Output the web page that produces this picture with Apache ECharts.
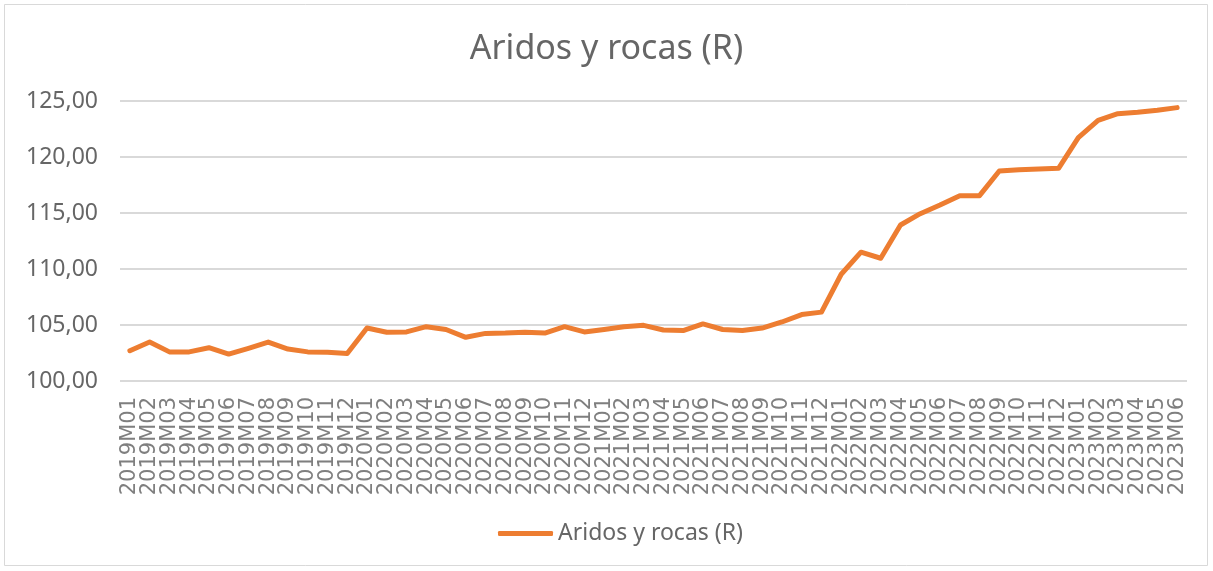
<!DOCTYPE html>
<html><head><meta charset="utf-8">
<script src="https://cdn.jsdelivr.net/npm/echarts@6/dist/echarts.min.js"></script>
<style>html,body{margin:0;padding:0;background:#fff}#c{width:1213px;height:571px}</style>
</head><body><div id="c"></div>
<script>
const categories = [
 "2019M01","2019M02","2019M03","2019M04","2019M05","2019M06","2019M07","2019M08","2019M09","2019M10","2019M11","2019M12",
 "2020M01","2020M02","2020M03","2020M04","2020M05","2020M06","2020M07","2020M08","2020M09","2020M10","2020M11","2020M12",
 "2021M01","2021M02","2021M03","2021M04","2021M05","2021M06","2021M07","2021M08","2021M09","2021M10","2021M11","2021M12",
 "2022M01","2022M02","2022M03","2022M04","2022M05","2022M06","2022M07","2022M08","2022M09","2022M10","2022M11","2022M12",
 "2023M01","2023M02","2023M03","2023M04","2023M05","2023M06"];
const aridosValues = [
 102.70,103.48,102.60,102.60,102.97,102.40,102.92,103.48,102.85,102.60,102.57,102.45,
 104.73,104.35,104.38,104.85,104.60,103.90,104.25,104.28,104.35,104.28,104.85,104.38,
 104.60,104.85,104.97,104.55,104.50,105.10,104.60,104.50,104.73,105.27,105.93,106.15,
 109.53,111.50,110.96,113.93,114.94,115.71,116.55,116.55,118.75,118.87,118.93,118.99,
 121.73,123.27,123.87,123.99,124.17,124.41];
const seriesName = "Aridos y rocas (R)";
const titleText = "Aridos y rocas (R)";
const yMin = 100, yMax = 125, yStep = 5;

const chart = echarts.init(document.getElementById('c'));
chart.setOption({
  animation: false,
  backgroundColor: '#fff',
  graphic: [{type:'rect', shape:{x:4.5,y:4.5,width:1203,height:561}, style:{fill:'none', stroke:'#d9d9d9', lineWidth:1}, silent:true}],
  title: {text: titleText, left: 'center', top: 27,
    textStyle: {fontFamily: '"Liberation Sans Narrow","Noto Sans",sans-serif', fontSize: 34, fontWeight: 'normal', color: '#666666'}},
  legend: {data:[seriesName], bottom: 21, left: 493, itemWidth: 55, itemHeight: 5, itemGap: 5,
    icon: 'roundRect',
    textStyle: {fontFamily: '"Noto Sans",sans-serif', fontSize: 23, color: '#666666'}},
  grid: {left: 120, right: 26, top: 101, bottom: 190, containLabel: false},
  xAxis: {type: 'category', data: categories, boundaryGap: true,
    axisLine: {show: false}, axisTick: {show: false},
    axisLabel: {rotate: 90, interval: 0, margin: 16, fontFamily: '"DejaVu Sans",sans-serif', fontSize: 21, color: '#7f7f7f'}},
  yAxis: {type: 'value', min: yMin, max: yMax, interval: yStep,
    axisLine: {show: false}, axisTick: {show: false},
    splitLine: {lineStyle: {color: '#d9d9d9', width: 2}},
    axisLabel: {margin: 22, fontFamily: '"Noto Sans",sans-serif', fontSize: 23, color: '#666666',
      formatter: v => v.toFixed(2).replace('.', ',')}},
  series: [{name: seriesName, type: 'line', data: aridosValues, showSymbol: false, symbol: 'none',
    lineStyle: {color: '#ED7D31', width: 5, cap: 'round', join: 'round'}, itemStyle: {color: '#ED7D31'}}]
});
</script></body></html>
